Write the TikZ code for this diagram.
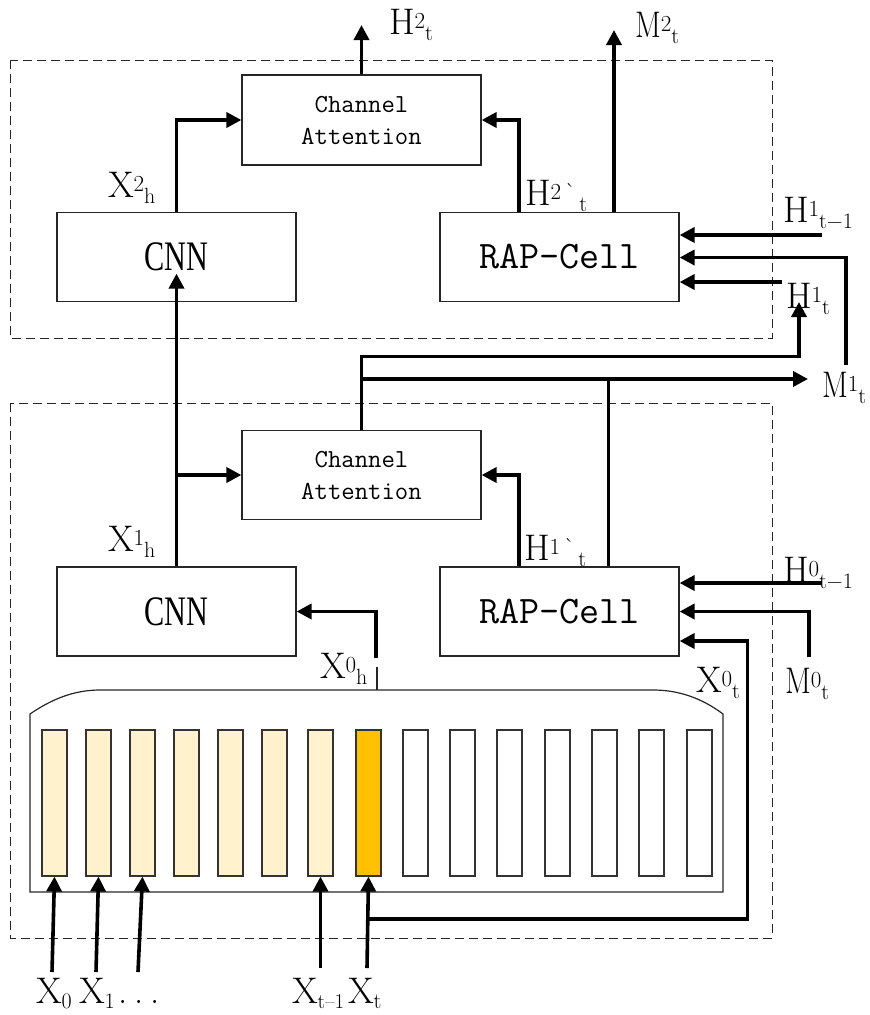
\documentclass[tikz,border=0pt]{standalone}
\usepackage{fontspec}
\usepackage{graphicx}
\usetikzlibrary{arrows.meta}
\newfontfamily\cnnfont[FakeStretch=0.72]{Liberation Serif}
\newcommand\supsub[3]{#1\raisebox{6pt}{\fontsize{23}{23}\selectfont #2}\raisebox{-6.5pt}{\fontsize{22}{22}\selectfont #3}}
\newcommand\narrowM{\scalebox{0.82}[1]{M}}
\definecolor{lightcell}{HTML}{FFF2CC}
\definecolor{goldcell}{HTML}{FFC000}
\tikzset{
  blk/.style={draw=black!85, line width=1.2pt, minimum width=239pt, minimum height=89pt, inner sep=0pt},
  catext/.style={font=\ttfamily\fontsize{26}{32}\selectfont, align=center},
  raptext/.style={font=\ttfamily\fontsize{39}{44}\selectfont},
  cnntext/.style={font=\cnnfont\fontsize{42}{46}\selectfont},
  conn/.style={line width=3.6pt, -{Triangle[length=15pt,width=15pt]}},
  plain/.style={line width=3.6pt},
  dashbox/.style={draw=black!85, line width=1pt, dash pattern=on 9pt off 5pt},
  lab/.style={anchor=base west, inner sep=0pt, outer sep=0pt, font=\fontsize{37}{40}\selectfont},
  cellbox/.style={draw=black!80, line width=1.1pt, minimum width=25pt, minimum height=146pt, inner sep=0pt},
}
\begin{document}
\begin{tikzpicture}[x=1pt, y=-1pt]
\useasboundingbox (0,0) rectangle (870,1015);
% dashed groups
\draw[dashbox] (10,60) rectangle (772,338);
\draw[dashbox] (10,403) rectangle (772,938);
% top layer
\node[blk, catext, minimum height=90pt] (ca2) at (361.5,120) {Channel\\Attention};
\node[blk, cnntext] (cnn2) at (176.5,257) {CNN};
\node[blk, raptext] (rap2) at (559.5,257) {RAP-Cell};
% bottom layer
\node[blk, catext] (ca1) at (361.5,475) {Channel\\Attention};
\node[blk, cnntext] (cnn1) at (176.5,611.5) {CNN};
\node[blk, raptext] (rap1) at (559.5,611.5) {RAP-Cell};
% buffer
\draw[draw=black!85, line width=1.2pt] (30,892) -- (30,714) .. controls (52,699) and (74,690) .. (100,690) -- (653,690) .. controls (680,690) and (703,699) .. (723,714) -- (723,892) -- cycle;
\foreach \i/\x/\c in {1/42/lightcell,2/86/lightcell,3/130/lightcell,4/174/lightcell,5/218/lightcell,6/262/lightcell,7/308/lightcell,8/356/goldcell,9/403/white,10/450/white,11/497/white,12/545/white,13/592/white,14/639/white,15/687/white}{
  \node[cellbox, fill=\c] (c\i) at (\x+12.5,803) {};
}
% free-end coordinates
\coordinate (h2out) at (361.5,25);
\coordinate (m2out) at (614,30);
\coordinate (h1in2) at (822,235);
\coordinate (m1up) at (846,365);
\coordinate (h1in3) at (782,282);
\coordinate (h1tip) at (799,302);
\coordinate (m1tip) at (808,379);
\coordinate (h0in) at (822,583);
\coordinate (m0in) at (809,657);
\coordinate (x0hend) at (376,658);
\coordinate (x0a) at (52,972);
\coordinate (x1a) at (96,972);
\coordinate (x2a) at (138,972);
\coordinate (xt1a) at (320.5,968);
\coordinate (xta) at (367,968);
\coordinate (xtb) at (367.4,919);
% top layer connectors
\draw[conn] (ca2.north) -- (h2out);
\draw[conn] ([xshift=54.5pt]rap2.north) -- (m2out);
\draw[conn] ([xshift=-40.5pt]rap2.north) |- (ca2.east);
\draw[conn] (cnn2.north) |- (ca2.west);
\draw[conn] (h1in2) -- (h1in2 -| rap2.east);
\draw[conn] (m1up) |- ([yshift=-0.5pt]rap2.east);
\draw[conn] (h1in3) -- (h1in3 -| rap2.east);
% between layers
\draw[conn] (cnn1.north) -- ([yshift=28.5pt]cnn2.south);
\draw[conn] (cnn1.north) |- (ca1.west);
\draw[conn] (ca1.north) -- (361.5,356.5) -| (h1tip);
\draw[conn] (361.5,379) -- (m1tip);
\draw[plain] ([xshift=49pt]rap1.north) -- ([xshift=49pt]rap1.north |- m1tip);
% bottom layer connectors
\draw[conn] ([xshift=-40.5pt]rap1.north) |- (ca1.east);
\draw[conn] (h0in) -- (h0in -| rap1.east);
\draw[conn] (m0in) |- (rap1.east);
\draw[conn] (x0hend) |- (cnn1.east);
\draw[line width=1.2pt, black!85] (377,667) -- (377,690);
% inputs
\draw[conn] (x0a) -- (c1.south);
\draw[conn] (x1a) -- (c2.south);
\draw[conn] (x2a) -- (c3.south);
\draw[conn] (xt1a) -- (c7.south);
\draw[conn] (xta) -- (c8.south);
\draw[conn] (xtb) -- (747.5,919) -- (747.5,641) -- (rap1.east |- 0,641);
% labels
\node[lab] (lh2) at (389,34) {\supsub{H}{2}{t}};
\node[lab] (lm2) at (635,37) {\supsub{\narrowM}{2}{t}};
\node[lab] (lh2p) at (525,205) {\supsub{H}{2\,\textasciigrave}{\,t}};
\node[lab] (lx2) at (108,197) {\supsub{X}{2}{h}};
\node[lab] (lh1a) at (783,222) {\supsub{H}{1}{t−1}};
\node[lab] (lh1b) at (786,308) {\supsub{H}{1}{t}};
\node[lab] (lm1) at (822,397) {\supsub{\narrowM}{1}{t}};
\node[lab] (lh1p) at (524,560) {\supsub{H}{1\,\textasciigrave}{\,t}};
\node[lab] (lx1) at (108,551) {\supsub{X}{1}{h}};
\node[lab] (lh0) at (783,582) {\supsub{H}{0}{t−1}};
\node[lab] (lm0) at (785,693) {\supsub{\narrowM}{0}{t}};
\node[lab] (lx0t) at (696,692) {\supsub{X}{0}{t}};
\node[lab] (lx0h) at (320,678) {\supsub{X}{0}{h}};
\node[lab] (lx0) at (36,1003) {X\raisebox{-5pt}{\fontsize{22}{22}\selectfont 0}};
\node[lab] (lx1i) at (79,1003) {X\raisebox{-5pt}{\fontsize{22}{22}\selectfont 1}};
\node[lab] (ldots) at (118,1003) {.\hspace{7pt}.\hspace{7pt}.};
\node[lab] (lxt1) at (292,1003) {X\raisebox{-5pt}{\fontsize{21}{21}\selectfont t–1}};
\node[lab] (lxt) at (348,1003) {X\raisebox{-5pt}{\fontsize{22}{22}\selectfont t}};
\end{tikzpicture}
\end{document}
